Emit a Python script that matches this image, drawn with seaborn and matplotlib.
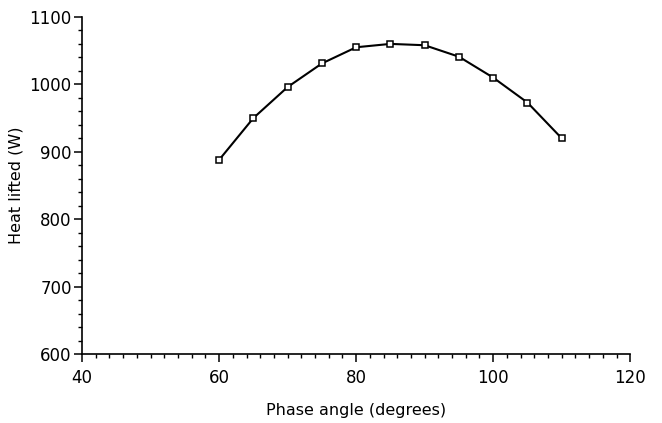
import matplotlib
matplotlib.use("Agg")
import matplotlib.pyplot as plt
import seaborn as sns
import pandas as pd
from matplotlib.ticker import MultipleLocator

phase_angle = [60, 65, 70, 75, 80, 85, 90, 95, 100, 105, 110]
heat_lifted = [888, 950, 996, 1031, 1055, 1060, 1058, 1041, 1010, 973, 920]

x_ticks = [40, 60, 80, 100, 120]
y_ticks = [600, 700, 800, 900, 1000, 1100]

sns.set_theme(style="ticks")
plt.rcParams['font.family'] = ['DejaVu Sans']

df = pd.DataFrame({"Phase angle (degrees)": phase_angle, "Heat lifted (W)": heat_lifted})

fig = plt.figure(figsize=(6.62, 4.23), dpi=100)
ax = fig.add_axes([0.124, 0.163, 0.828, 0.797])

sns.lineplot(data=df, x="Phase angle (degrees)", y="Heat lifted (W)", ax=ax,
             color="black", linewidth=1.5, marker="s", markersize=4.5,
             markerfacecolor="white", markeredgecolor="black", markeredgewidth=1.1)

ax.set_xlim(40, 120)
ax.set_ylim(600, 1100)
ax.set_xticks(x_ticks)
ax.set_yticks(y_ticks)
ax.xaxis.set_minor_locator(MultipleLocator(2))
ax.yaxis.set_minor_locator(MultipleLocator(20))

for s in ["top", "right"]:
    ax.spines[s].set_visible(False)
for s in ["left", "bottom"]:
    ax.spines[s].set_linewidth(1.2)
    ax.spines[s].set_color("black")

ax.tick_params(axis="both", which="major", direction="out", length=6, width=1.1,
               labelsize=12, colors="black", pad=3)
ax.tick_params(axis="both", which="minor", direction="out", length=3.2, width=1.0, colors="black")
ax.tick_params(axis="x", which="major", pad=5)
ax.tick_params(axis="y", which="major", pad=1.5)

ax.set_xlabel("Phase angle (degrees)", fontsize=11.5, color="black", labelpad=11)
ax.set_ylabel("Heat lifted (W)", fontsize=11.5, color="black", labelpad=4)

fig.savefig("out.png", dpi=100, facecolor="white")
